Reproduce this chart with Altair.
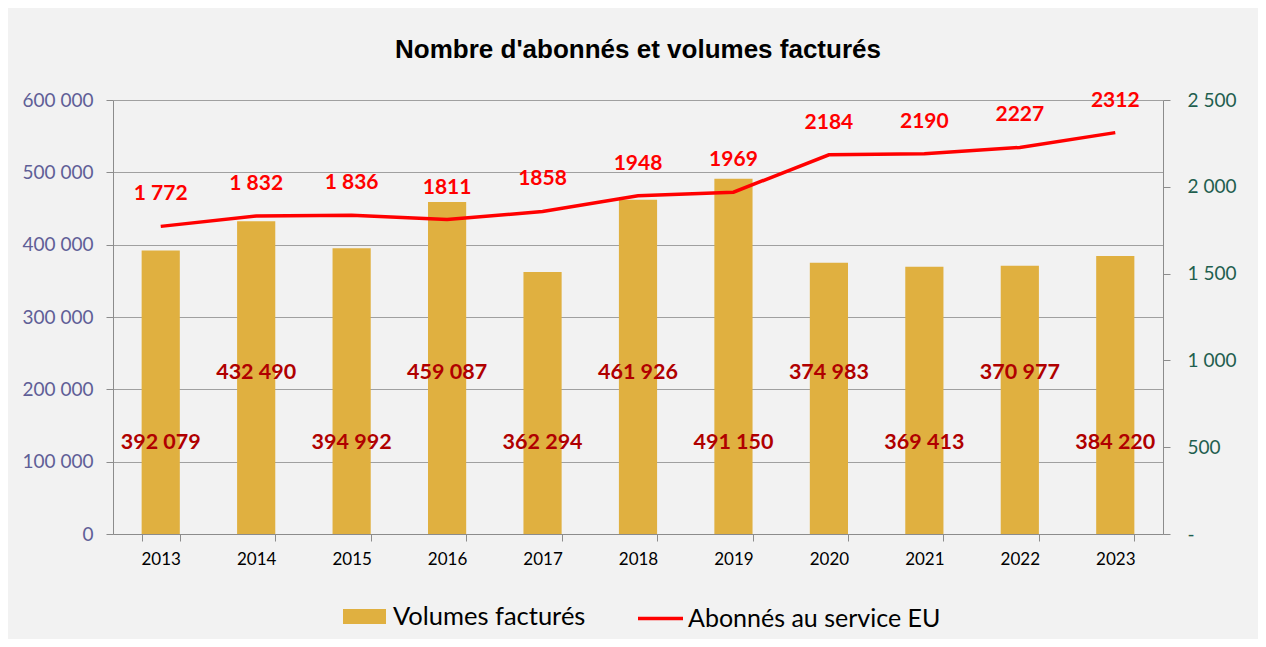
import altair as alt
import pandas as pd

years = ["2013", "2014", "2015", "2016", "2017", "2018", "2019", "2020", "2021", "2022", "2023"]
volumes = [392079, 432490, 394992, 459087, 362294, 461926, 491150, 374983, 369413, 370977, 384220]
abonnes = [1772, 1832, 1836, 1811, 1858, 1948, 1969, 2184, 2190, 2227, 2312]
abonnes_labels = ["1 772", "1 832", "1 836", "1811", "1858", "1948", "1969", "2184", "2190", "2227", "2312"]

df = pd.DataFrame({
    "year": years,
    "vol": volumes,
    "abo": abonnes,
    "abo_label": abonnes_labels,
    "vol_name": ["Volumes factur\u00e9s"] * len(years),
    "abo_name": ["Abonn\u00e9s au service EU"] * len(years),
})

FONT = "Lato"
BAR = "#E0B040"
RED = "#FF0000"
DARKRED = "#B00000"
GRID = "#A0A0A0"

xenc = alt.X("year:N", title=None,
             scale=alt.Scale(paddingInner=0.6, paddingOuter=0.3),
             axis=alt.Axis(labelAngle=0, labelFont=FONT, labelFontSize=17, labelColor="#000000",
                           tickBand="extent", tickColor="#8C8C8C", domainColor="#8C8C8C",
                           tickSize=7, labelPadding=10, grid=False))

bars = alt.Chart(df).mark_bar(color=BAR).encode(
    x=xenc,
    y=alt.Y("vol:Q", title=None,
            scale=alt.Scale(domain=[0, 600000]),
            axis=alt.Axis(values=[0, 100000, 200000, 300000, 400000, 500000, 600000],
                          labelExpr="replace(format(datum.value, ','), ',', ' ')",
                          labelFont=FONT, labelFontSize=19, labelColor="#5F5F97",
                          tickSize=7, tickColor="#8C8C8C", domainColor="#8C8C8C",
                          labelPadding=13, gridColor=GRID, gridWidth=1)),
    color=alt.Color("vol_name:N", title=None,
                    scale=alt.Scale(range=[BAR]),
                    legend=alt.Legend(orient="none", legendX=230, legendY=495,
                                      symbolType="M-1,-0.35H1V0.35H-1Z", symbolSize=1849,
                                      symbolStrokeWidth=0, labelFont=FONT, labelFontSize=25.5,
                                      labelColor="#000000", labelOffset=7, padding=0,
                                      labelLimit=0)),
)

bar_base = alt.Chart(df).transform_calculate(
    lab="replace(format(datum.vol, ','), ',', ' ')",
    odd="toNumber(datum.year) % 2",
)

bar_lab_low = bar_base.transform_filter("datum.odd == 1").mark_text(
    font=FONT, fontSize=21.5, fontWeight="bold", color=DARKRED, baseline="middle"
).encode(x=alt.X("year:N"), y=alt.value(343), text="lab:N")

bar_lab_high = bar_base.transform_filter("datum.odd == 0").mark_text(
    font=FONT, fontSize=21.5, fontWeight="bold", color=DARKRED, baseline="middle"
).encode(x=alt.X("year:N"), y=alt.value(273), text="lab:N")

yabo = alt.Y("abo:Q", title=None,
             scale=alt.Scale(domain=[0, 2500]),
             axis=alt.Axis(orient="right", values=[0, 500, 1000, 1500, 2000, 2500],
                           labelExpr="datum.value == 0 ? '-' : replace(format(datum.value, ','), ',', ' ')",
                           labelFont=FONT, labelFontSize=19, labelColor="#1F5F4F",
                           labelAlign="left", tickSize=7, tickColor="#8C8C8C",
                           domainColor="#8C8C8C", labelPadding=17, grid=False))

line = alt.Chart(df).mark_line(strokeWidth=3.5).encode(
    x=alt.X("year:N"),
    y=yabo,
    stroke=alt.Stroke("abo_name:N", title=None,
                      scale=alt.Scale(range=[RED]),
                      legend=alt.Legend(orient="none", legendX=523, legendY=494,
                                        symbolType="stroke", symbolSize=2025,
                                        symbolStrokeWidth=3.5, labelFont=FONT, labelFontSize=25,
                                        labelColor="#000000", labelOffset=3, padding=0,
                                        labelLimit=0)),
)

line_lab = alt.Chart(df).mark_text(
    font=FONT, fontSize=21, fontWeight="bold", color=RED, baseline="middle", dy=-32
).encode(x=alt.X("year:N"), y=yabo, text="abo_label:N")

left = alt.layer(bars, bar_lab_low, bar_lab_high)
right = alt.layer(line, line_lab)

chart = alt.layer(left, right).resolve_scale(y="independent").properties(
    width=1050, height=434,
    padding={"left": 105, "top": 92, "right": 95, "bottom": 105},
    autosize=alt.AutoSizeParams(type="none"),
    background="#F2F2F2",
    title=alt.TitleParams("Nombre d'abonn\u00e9s et volumes factur\u00e9s",
                          font="Liberation Sans", fontSize=26, fontWeight="bold",
                          color="#000000", anchor="middle", offset=27),
).configure_view(stroke=None)

chart.save("out.html", embed_options={"renderer": "svg", "actions": False})
